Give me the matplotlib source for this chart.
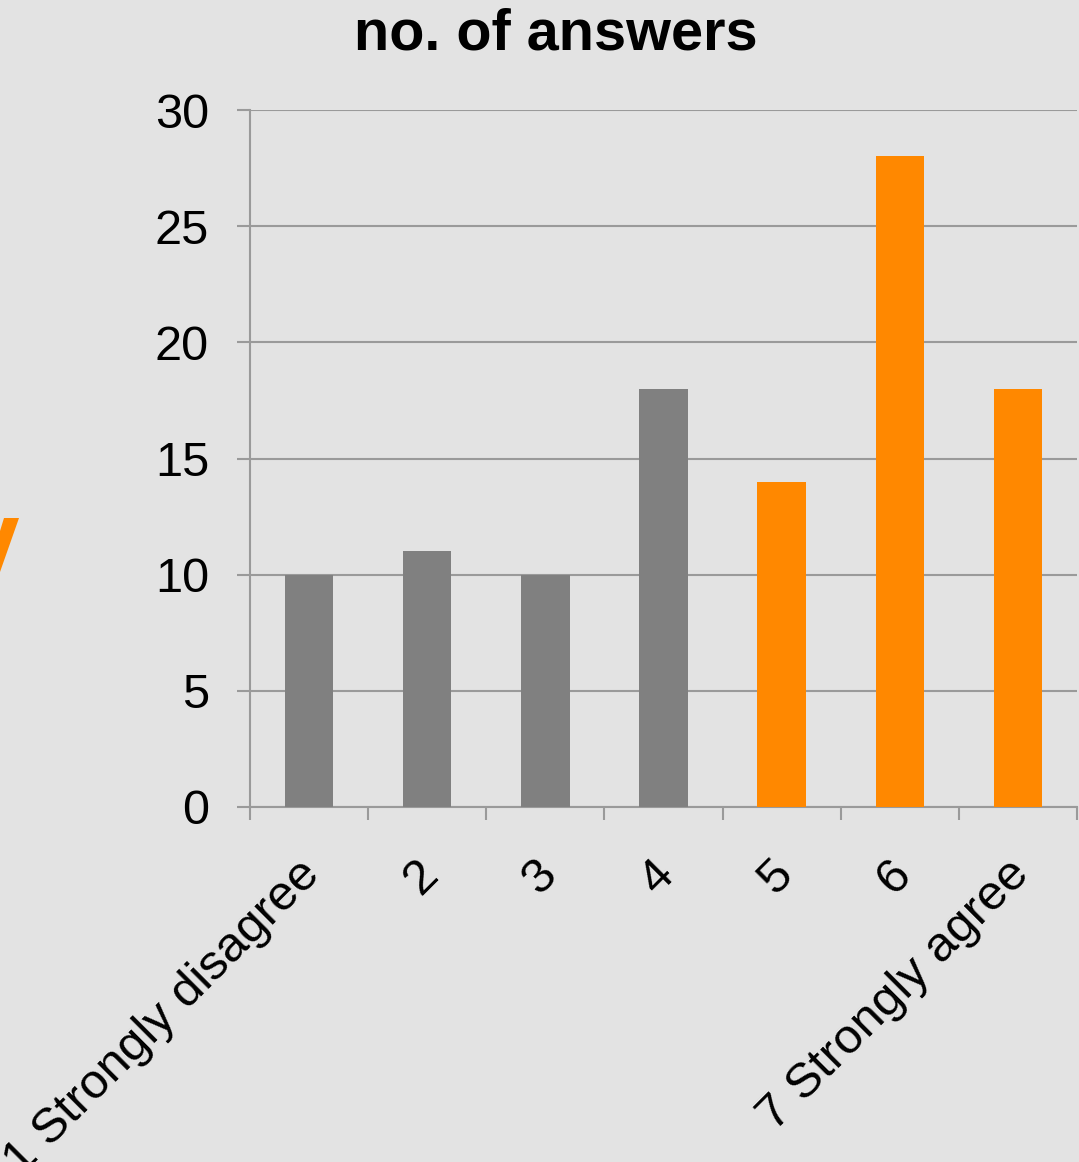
import numpy as np
import matplotlib.pyplot as plt
from matplotlib.patches import Polygon
from matplotlib.transforms import ScaledTranslation

plt.rcParams['font.family'] = ['Liberation Sans', 'DejaVu Sans']

categories = ['1 Strongly disagree', '2', '3', '4', '5', '6', '7 Strongly agree']
answers = [10, 11, 10, 18, 14, 28, 18]
bar_colors = ['#808080'] * 4 + ['#ff8800'] * 3

bg = '#e3e3e3'
W, H = 1079, 1162
fig = plt.figure(figsize=(W/100, H/100), dpi=100, facecolor=bg)
ax = fig.add_axes([250/W, 355/H, 827/W, 697/H], facecolor=bg)

x = np.arange(len(categories))
ax.bar(x, answers, width=0.41, color=bar_colors, zorder=3)

ax.set_xlim(-0.5, len(categories) - 0.5)
ax.set_ylim(0, 30)
ax.set_yticks(range(0, 31, 5))
ax.yaxis.grid(True, color='#9a9a9a', lw=1.5, zorder=0)
for s in ['top', 'right']:
    ax.spines[s].set_visible(False)
for s in ['left', 'bottom']:
    ax.spines[s].set_color('#9a9a9a')
    ax.spines[s].set_linewidth(1.5)

ax.set_xticks(np.arange(-0.5, len(categories), 1.0), minor=False)
ax.set_xticklabels([])
ax.set_xticks(x, minor=True)
ax.set_xticklabels(categories, minor=True, rotation=45, ha='right',
                   rotation_mode='anchor', fontsize=35.5)
ax.tick_params(axis='x', which='major', length=9.5, width=1.5, color='#9a9a9a')
ax.tick_params(axis='x', which='minor', length=0, pad=32)
ax.tick_params(axis='y', length=9.5, width=1.5, color='#9a9a9a', labelsize=35, pad=20)

# nudge rotated labels a bit to the left
shift = ScaledTranslation(-12/100, 0, fig.dpi_scale_trans)
for lab in ax.get_xticklabels(minor=True):
    lab.set_transform(lab.get_transform() + shift)

fig.text(556/W, 1 - 34/H, 'no. of answers', ha='center', va='center',
         fontsize=41.5, fontweight='bold')
# partial orange glyph cut off at the left edge of the slide
glyph = [(0, 531), (4, 518), (19, 518), (0, 572)]
fig.patches.append(Polygon([(px/W, 1 - py/H) for px, py in glyph], closed=True,
                           transform=fig.transFigure, facecolor='#ff8800',
                           edgecolor='none'))

fig.savefig('out.png', dpi=100, facecolor=bg)
